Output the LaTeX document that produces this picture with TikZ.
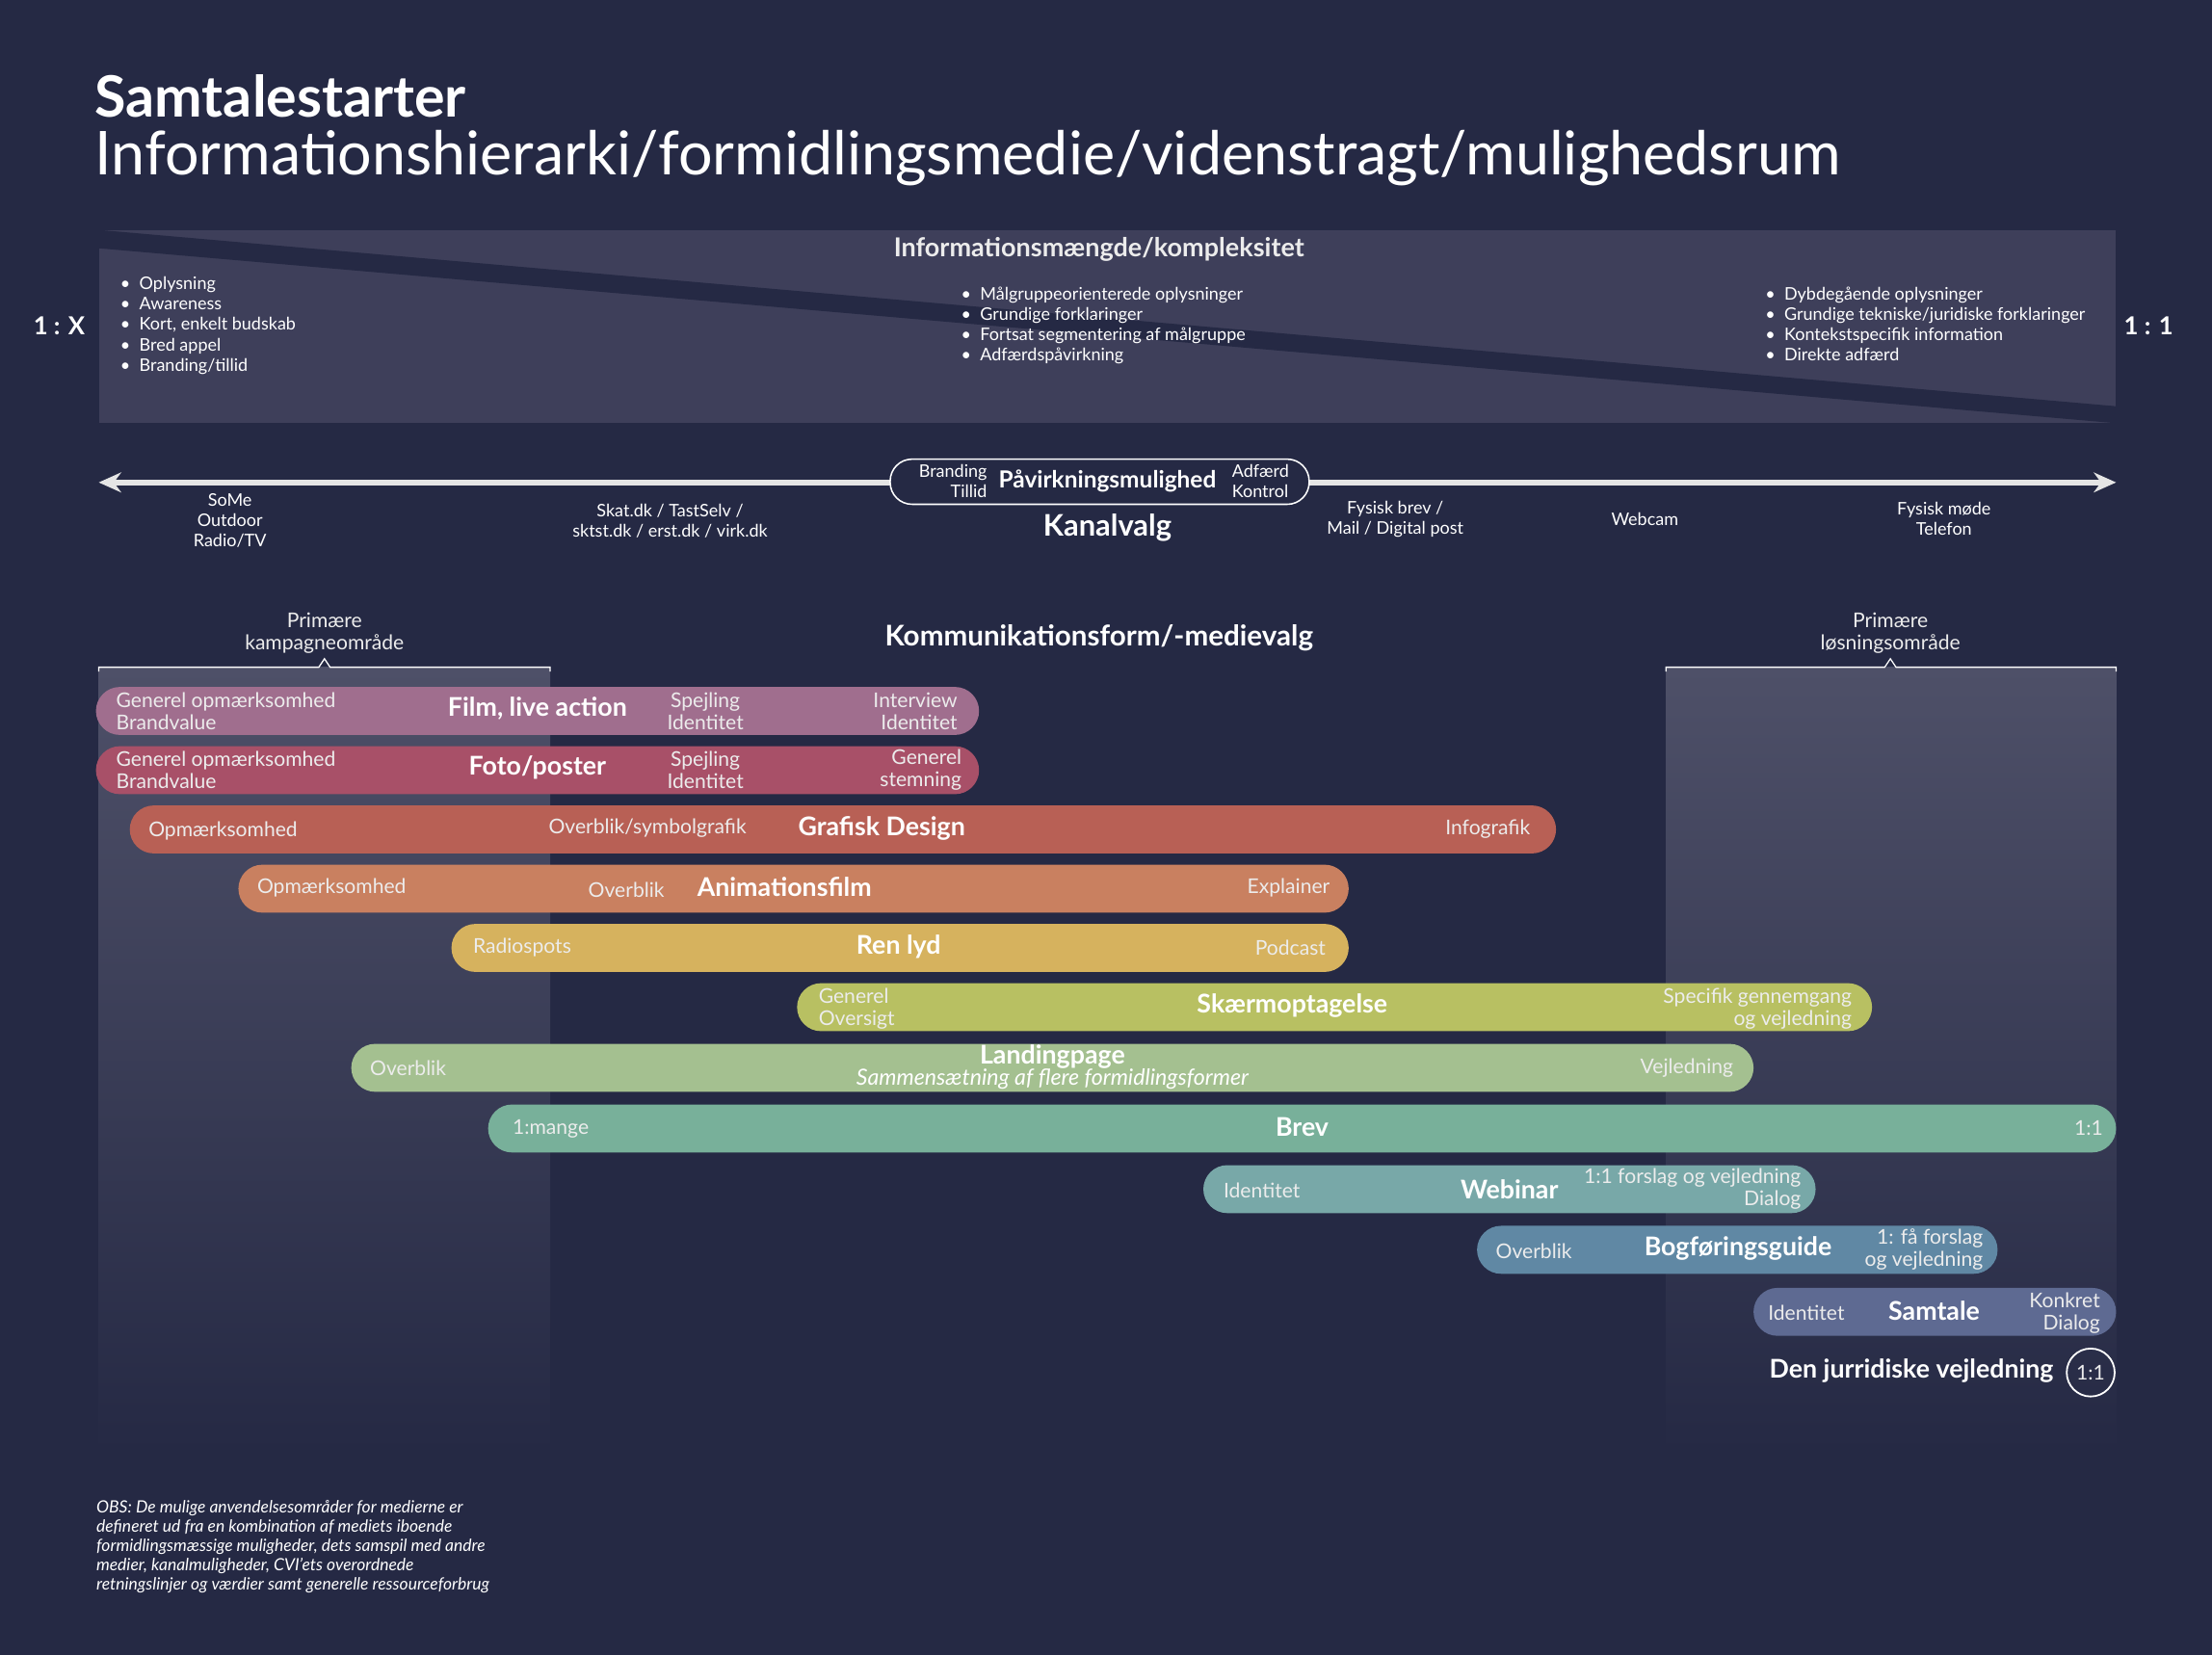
\documentclass[tikz,border=0pt]{standalone}
\usepackage{fontspec}
\setmainfont{Lato}
\usetikzlibrary{arrows.meta}
\definecolor{bgnavy}{HTML}{252944}
\definecolor{boxgray}{HTML}{3E3F5A}
\definecolor{colgray}{HTML}{4E5068}
\definecolor{cFilm}{HTML}{A06E8E}
\definecolor{cFoto}{HTML}{A85068}
\definecolor{cGraf}{HTML}{B86055}
\definecolor{cAnim}{HTML}{C98060}
\definecolor{cLyd}{HTML}{D6B25E}
\definecolor{cSkaerm}{HTML}{B8C062}
\definecolor{cLand}{HTML}{A4C090}
\definecolor{cBrev}{HTML}{78B09A}
\definecolor{cWeb}{HTML}{78A8A8}
\definecolor{cBog}{HTML}{6088A4}
\definecolor{cSamt}{HTML}{5E6A92}
\begin{document}
\begin{tikzpicture}[x=0.02cm, y=-0.02cm,
  every node/.style={inner sep=0pt, text=white},
  mbar/.style={rounded corners=0.34cm},
  soft/.style={text=white!85!gray, font=\fontsize{8.2}{9}\selectfont, align=left},
  softr/.style={soft, align=right, anchor=east},
  softl/.style={soft, anchor=west},
  barhead/.style={font=\fontsize{10.4}{11}\selectfont\bfseries},
  small/.style={font=\fontsize{7}{8.2}\selectfont, align=center},
  bullets/.style={font=\fontsize{7}{8.2}\selectfont, align=left, anchor=north west},
  heading/.style={font=\fontsize{10.5}{11}\selectfont\bfseries}]
\fill[bgnavy] (0,0) rectangle (1568,1173);
\useasboundingbox (0,0) rectangle (1568,1173);
% title
\node[anchor=west, font=\fontsize{23}{25}\selectfont\bfseries] (title) at (67,68) {Samtalestarter};
\node[anchor=west, font=\fontsize{24.4}{26}\selectfont] (subtitle) at (67,112) {Informationshierarki/formidlingsmedie/videnstragt/mulighedsrum};
% information box with wedge
\fill[boxgray] (70,163) rectangle (1500,300);
\fill[bgnavy] (70,163) -- (1500,288) -- (1500,300) -- (70,176) -- cycle;
\node[heading, text=white!85!gray] (info) at (779,177) {Informationsmængde/kompleksitet};
\node[font=\fontsize{10}{10}\selectfont\bfseries] (onex) at (42,231) {1 : X};
\node[font=\fontsize{10}{10}\selectfont\bfseries] (oneone) at (1523,231) {1 : 1};
\node[bullets] (listL) at (85,196) {• \ Oplysning\\• \ Awareness\\• \ Kort, enkelt budskab\\• \ Bred appel\\• \ Branding/tillid};
\node[bullets] (listM) at (681,203) {• \ Målgruppeorienterede oplysninger\\• \ Grundige forklaringer\\• \ Fortsat segmentering af målgruppe\\• \ Adfærdspåvirkning};
\node[bullets] (listR) at (1251,203) {• \ Dybdegående oplysninger\\• \ Grundige tekniske/juridiske forklaringer\\• \ Kontekstspecifik information\\• \ Direkte adfærd};
% channel axis
\coordinate (axL) at (70,342);
\coordinate (axR) at (1500,342);
\draw[line width=2.2pt, white!80!gray, {Stealth[length=9pt,width=8pt]}-{Stealth[length=9pt,width=8pt]}] (axL) -- (axR);
\node[draw=white, line width=0.6pt, fill=bgnavy, rounded corners=0.31cm, minimum width=297*0.02cm, minimum height=32*0.02cm] (pill) at (779.5,341.5) {};
\node[small, align=right, anchor=east] (pilll) at (700,341) {Branding\\Tillid};
\node[font=\fontsize{9.5}{10}\selectfont\bfseries] (pillc) at (785,341) {Påvirkningsmulighed};
\node[small, align=left, anchor=west] (pillr) at (873,341) {Adfærd\\Kontrol};
\node[font=\fontsize{12}{12}\selectfont\bfseries] (kanal) at (785,374) {Kanalvalg};
\node[small] (ch1) at (163,369) {SoMe\\Outdoor\\Radio/TV};
\node[small] (ch2) at (475,369) {Skat.dk / TastSelv /\\sktst.dk / erst.dk / virk.dk};
\node[small] (ch3) at (989,368) {Fysisk brev /\\Mail / Digital post};
\node[small] (ch4) at (1166,368) {Webcam};
\node[small] (ch5) at (1378,368) {Fysisk møde\\Telefon};
% columns
\shade[top color=colgray, bottom color=bgnavy] (70,473) rectangle (390,1030);
\shade[top color=colgray, bottom color=bgnavy] (1181,473) rectangle (1500,1030);
\draw[white, line width=0.5pt] (70,476) -- (70,473) -- (226,473) -- (230,467) -- (234,473) -- (390,473) -- (390,476);
\draw[white, line width=0.5pt] (1181,476) -- (1181,473) -- (1336,473) -- (1340,467) -- (1344,473) -- (1500,473) -- (1500,476);
\node[soft, align=center] (prim1) at (230,449) {Primære\\kampagneområde};
\node[soft, align=center] (prim2) at (1340,449) {Primære\\løsningsområde};
\node[font=\fontsize{11.5}{12}\selectfont\bfseries] (komm) at (779,452) {Kommunikationsform/-medievalg};
% media bars
\fill[cFilm, mbar] (68,487) rectangle (694,521);
\node[softl] (f1) at (82,504) {Generel opmærksomhed\\Brandvalue};
\node[barhead] (f2) at (381,502) {Film, live action};
\node[soft, align=center] (f3) at (500,504) {Spejling\\Identitet};
\node[softr] (f4) at (679,504) {Interview\\Identitet};
\fill[cFoto, mbar] (68,529) rectangle (694,563);
\node[softl] (p1) at (82,546) {Generel opmærksomhed\\Brandvalue};
\node[barhead] (p2) at (381,544) {Foto/poster};
\node[soft, align=center] (p3) at (500,546) {Spejling\\Identitet};
\node[softr] (p4) at (682,546) {Generel\\stemning};
\fill[cGraf, mbar] (92,571) rectangle (1103,605);
\node[softl] (g1) at (105,589) {Opmærksomhed};
\node[soft] (g2) at (459,587) {Overblik/symbolgrafik};
\node[barhead] (g3) at (625,587) {Grafisk Design};
\node[softr] (g4) at (1085,588) {Infografik};
\fill[cAnim, mbar] (169,613) rectangle (956,647);
\node[softl] (a1) at (182,629) {Opmærksomhed};
\node[soft] (a2) at (444,631) {Overblik};
\node[barhead] (a3) at (556,629) {Animationsfilm};
\node[softr] (a4) at (943,629) {Explainer};
\fill[cLyd, mbar] (320,655) rectangle (956,689);
\node[softl] (l1) at (335,672) {Radiospots};
\node[barhead] (l2) at (637,671) {Ren lyd};
\node[softr] (l3) at (940,672) {Podcast};
\fill[cSkaerm, mbar] (565,697) rectangle (1327,731);
\node[softl] (s1) at (580,715) {Generel\\Oversigt};
\node[barhead] (s2) at (916,713) {Skærmoptagelse};
\node[softr] (s3) at (1313,715) {Specifik gennemgang\\og vejledning};
\fill[cLand, mbar] (249,740) rectangle (1243,774);
\node[softl] (d1) at (262,757) {Overblik};
\node[barhead] (d2) at (746,749) {Landingpage};
\node[font=\fontsize{9}{10}\selectfont\itshape] (d3) at (746,765) {Sammensætning af flere formidlingsformer};
\node[softr] (d4) at (1229,757) {Vejledning};
\fill[cBrev, mbar] (346,783) rectangle (1500,817);
\node[softl] (b1) at (363,800) {1:mange};
\node[barhead] (b2) at (923,799) {Brev};
\node[softr] (b3) at (1491,800) {1:1};
\fill[cWeb, mbar] (853,826) rectangle (1287,860);
\node[softl] (w1) at (867,844) {Identitet};
\node[barhead] (w2) at (1070,843) {Webinar};
\node[softr] (w3) at (1277,843) {1:1 forslag og vejledning\\Dialog};
\fill[cBog, mbar] (1047,869) rectangle (1416,903);
\node[softl] (o1) at (1060,887) {Overblik};
\node[barhead] (o2) at (1232,885) {Bogføringsguide};
\node[softr] (o3) at (1406,886) {1: få forslag\\og vejledning};
\fill[cSamt, mbar] (1243,913) rectangle (1500,947);
\node[softl] (t1) at (1253,931) {Identitet};
\node[barhead] (t2) at (1371,929) {Samtale};
\node[softr] (t3) at (1489,931) {Konkret\\Dialog};
\node[barhead, anchor=east] (jur) at (1456,972) {Den jurridiske vejledning};
\node[draw=white, line width=0.7pt, circle, minimum size=0.68cm, soft] (jurc) at (1482,973) {1:1};
% note
\node[anchor=north west, align=left, font=\fontsize{6.8}{7.8}\selectfont\itshape] (obs) at (68,1063) {OBS: De mulige anvendelsesområder for medierne er\\defineret ud fra en kombination af mediets iboende\\formidlingsmæssige muligheder, dets samspil med andre\\medier, kanalmuligheder, CVI'ets overordnede\\retningslinjer og værdier samt generelle ressourceforbrug};
\end{tikzpicture}
\end{document}
